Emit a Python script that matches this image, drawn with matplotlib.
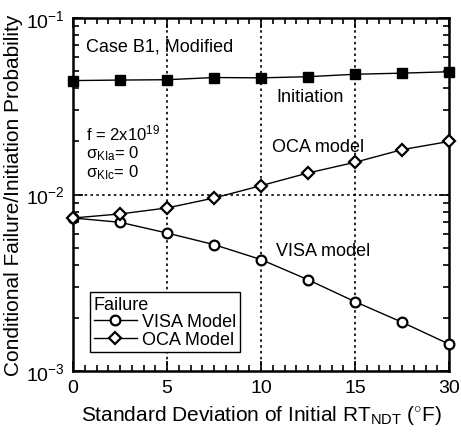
import matplotlib
matplotlib.use("Agg")
import matplotlib.pyplot as plt
from matplotlib.ticker import MultipleLocator, LogLocator, NullFormatter, FixedLocator, FixedFormatter

plt.rcParams['font.family'] = ['Liberation Sans', 'DejaVu Sans']
plt.rcParams['mathtext.fontset'] = 'custom'
plt.rcParams['mathtext.rm'] = 'Liberation Sans'
plt.rcParams['mathtext.it'] = 'Liberation Sans:italic'

# data
std_dev = [0, 2.5, 5, 7.5, 10, 12.5, 15, 17.5, 20]
initiation = [0.0442, 0.0445, 0.0447, 0.0460, 0.0458, 0.0465, 0.0480, 0.0487, 0.0496]
oca_model = [0.00736, 0.00776, 0.00839, 0.00955, 0.01122, 0.01324, 0.01522, 0.01795, 0.01997]
visa_model = [0.00736, 0.00696, 0.00605, 0.00520, 0.00428, 0.00329, 0.00247, 0.00189, 0.00142]
x_tick_pos = [0, 5, 10, 15, 20]
x_tick_labels = ["0", "5", "10", "15", "30"]

fig = plt.figure(figsize=(4.61, 4.35), dpi=100)
ax = fig.add_axes([73/461, 1 - 372/435, 376/461, 353/435])

ax.set_yscale('log')
ax.set_xlim(0, 20)
ax.set_ylim(1e-3, 1e-1)

ax.plot(std_dev, initiation, '-', color='black', lw=1.0, marker='s', ms=7.5,
        mfc='black', mec='black', clip_on=False, zorder=3)
ax.plot(std_dev, visa_model, '-', color='black', lw=1.0, marker='o', ms=7,
        mfc='white', mec='black', mew=1.6, clip_on=False, zorder=3, label='VISA Model')
ax.plot(std_dev, oca_model, '-', color='black', lw=1.0, marker='D', ms=6,
        mfc='white', mec='black', mew=1.6, clip_on=False, zorder=3, label='OCA Model')

for xv in [5, 10, 15]:
    ax.axvline(xv, color='black', ls=(0, (1.5, 2)), lw=1.2, zorder=1)
ax.axhline(1e-2, color='black', ls=(0, (1.5, 2)), lw=1.2, zorder=1)

ax.xaxis.set_major_locator(FixedLocator(x_tick_pos))
ax.xaxis.set_major_formatter(FixedFormatter(x_tick_labels))
ax.xaxis.set_minor_locator(MultipleLocator(0.625))
ax.yaxis.set_major_locator(LogLocator(base=10, numticks=10))
ax.yaxis.set_minor_locator(LogLocator(base=10, subs=range(2, 10), numticks=20))
ax.yaxis.set_minor_formatter(NullFormatter())
ax.tick_params(which='both', direction='in', top=True, right=True, width=1.2)
ax.tick_params(which='major', length=7, labelsize=14, pad=6)
ax.tick_params(which='minor', length=4)
for s in ax.spines.values():
    s.set_linewidth(1.8)

ax.set_xlabel(r"Standard Deviation of Initial RT$_{\mathrm{NDT}}$ ($^{\circ}$F)", fontsize=15, labelpad=5)
ax.set_ylabel("Conditional Failure/Initiation Probability", fontsize=15, labelpad=2)

tf = ax.transAxes
ax.text(0.035, 0.921, "Case B1, Modified", transform=tf, fontsize=13, va='center', ha='left')
ax.text(0.630, 0.779, "Initiation", transform=tf, fontsize=13, va='center', ha='center')
ax.text(0.652, 0.637, "OCA model", transform=tf, fontsize=13, va='center', ha='center')
ax.text(0.665, 0.340, "VISA model", transform=tf, fontsize=13, va='center', ha='center')
ax.text(0.035, 0.676, r"f = 2x10$^{19}$", transform=tf, fontsize=12, va='center', ha='left')
ax.text(0.035, 0.618, "σ$_{\\mathrm{KIa}}$= 0", transform=tf, fontsize=12, va='center', ha='left')
ax.text(0.035, 0.564, "σ$_{\\mathrm{KIc}}$= 0", transform=tf, fontsize=12, va='center', ha='left')

leg = ax.legend(loc='lower left', bbox_to_anchor=(0.045, 0.054), title='Failure',
                fontsize=13, title_fontsize=13, frameon=True, fancybox=False,
                edgecolor='black', framealpha=1, handlelength=2.4, borderpad=0.2,
                labelspacing=0.05, handletextpad=0.3, borderaxespad=0)
leg._legend_box.align = "left"
leg.get_frame().set_linewidth(1.0)

fig.savefig("out.png", dpi=100)
